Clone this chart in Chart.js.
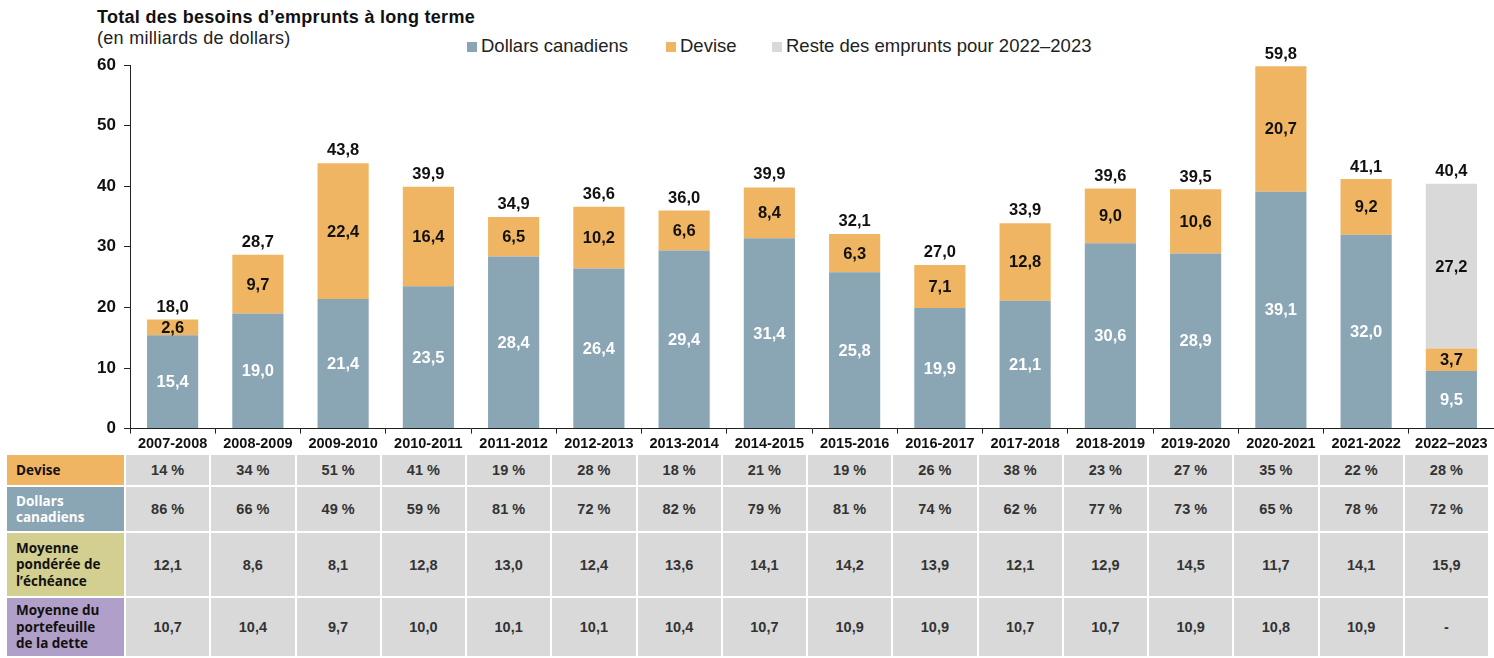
<!DOCTYPE html>
<html>
<head>
<meta charset="utf-8">
<script src="https://cdn.jsdelivr.net/npm/chart.js@4.4.0/dist/chart.umd.min.js"></script>
<style>
  body { margin: 0; background: #fff; font-family: "Liberation Sans", Arial, sans-serif; }
  #wrap { position: relative; width: 1494px; height: 658px; overflow: hidden; }
  #chart_div { position: absolute; left: 0; top: 0; width: 1494px; height: 455px; }
  .title { position: absolute; left: 97px; top: 7px; font-size: 18px; font-weight: bold; color: #111; letter-spacing: 0.3px; }
  .subtitle { position: absolute; left: 97px; top: 28px; font-size: 18px; color: #222; letter-spacing: 0.3px; }
  .legend { position: absolute; top: 35px; font-size: 18.5px; color: #222; white-space: nowrap; }
  .legend span.box { position: absolute; left: -14px; top: 7px; width: 10px; height: 10px; }
  #table_div { position: absolute; left: 0; top: 455px; width: 1494px; height: 203px; }
  .cell { position: absolute; box-sizing: border-box; background: #d9d9d9; display: flex; align-items: center; justify-content: center;
          font-size: 14.5px; font-weight: bold; color: #333; }
  .head { justify-content: flex-start; padding-left: 9px; font-family: "Open Sans", sans-serif; font-size: 13.5px; line-height: 16.5px; color: #111; }
</style>
</head>
<body>
<div id="wrap">
  <div class="title">Total des besoins d’emprunts à long terme</div>
  <div class="subtitle">(en milliards de dollars)</div>
  <div class="legend" style="left:481px"><span class="box" style="background:#8aa5b4"></span>Dollars canadiens</div>
  <div class="legend" style="left:680px"><span class="box" style="background:#f0b562"></span>Devise</div>
  <div class="legend" style="left:786px"><span class="box" style="background:#d9d9d9"></span>Reste des emprunts pour 2022–2023</div>
  <div id="chart_div"><canvas id="my_chart"></canvas></div>
  <div id="table_div"></div>
</div>
<script>
const labels = ['2007-2008', '2008-2009', '2009-2010', '2010-2011', '2011-2012', '2012-2013', '2013-2014', '2014-2015',
  '2015-2016', '2016-2017', '2017-2018', '2018-2019', '2019-2020', '2020-2021', '2021-2022', '2022–2023'];

const cad_values = [15.4, 19.0, 21.4, 23.5, 28.4, 26.4, 29.4, 31.4, 25.8, 19.9, 21.1, 30.6, 28.9, 39.1, 32.0, 9.5];
const devise_values = [2.6, 9.7, 22.4, 16.4, 6.5, 10.2, 6.6, 8.4, 6.3, 7.1, 12.8, 9.0, 10.6, 20.7, 9.2, 3.7];
const reste_values = [null, null, null, null, null, null, null, null, null, null, null, null, null, null, null, 27.2];
const total_values = [18.0, 28.7, 43.8, 39.9, 34.9, 36.6, 36.0, 39.9, 32.1, 27.0, 33.9, 39.6, 39.5, 59.8, 41.1, 40.4];

const y_ticks = [0, 10, 20, 30, 40, 50, 60];

// table rows
const devise_pct = ['14 %', '34 %', '51 %', '41 %', '19 %', '28 %', '18 %', '21 %', '19 %', '26 %', '38 %', '23 %', '27 %', '35 %', '22 %', '28 %'];
const cad_pct = ['86 %', '66 %', '49 %', '59 %', '81 %', '72 %', '82 %', '79 %', '81 %', '74 %', '62 %', '77 %', '73 %', '65 %', '78 %', '72 %'];
const moy_echeance = ['12,1', '8,6', '8,1', '12,8', '13,0', '12,4', '13,6', '14,1', '14,2', '13,9', '12,1', '12,9', '14,5', '11,7', '14,1', '15,9'];
const moy_portefeuille = ['10,7', '10,4', '9,7', '10,0', '10,1', '10,1', '10,4', '10,7', '10,9', '10,9', '10,7', '10,7', '10,9', '10,8', '10,9', '-'];

const row_heads = [
  { text: 'Devise', bg: '#f0b562', color: '#111', values: devise_pct, top: 0, height: 32 },
  { text: 'Dollars<br>canadiens', bg: '#8aa5b4', color: '#fff', values: cad_pct, top: 32, height: 46 },
  { text: 'Moyenne<br>pondérée de<br>l’échéance', bg: '#d3cf90', color: '#111', values: moy_echeance, top: 78, height: 65 },
  { text: 'Moyenne du<br>portefeuille<br>de la dette', bg: '#b09fc8', color: '#111', values: moy_portefeuille, top: 143, height: 60 }
];

function fmt(v) {
  return v.toFixed(1).replace('.', ',');
}

const bar_labels = {
  id: 'bar_labels',
  afterDatasetsDraw(chart) {
    const ctx = chart.ctx;
    ctx.save();
    ctx.font = 'bold 16.5px "Liberation Sans", Arial, sans-serif';
    ctx.textAlign = 'center';
    ctx.textBaseline = 'middle';
    chart.data.datasets.forEach(function(ds, di) {
      const meta = chart.getDatasetMeta(di);
      meta.data.forEach(function(bar, i) {
        const v = ds.data[i];
        if (v === null || v === undefined) return;
        ctx.fillStyle = di === 0 ? '#fff' : '#111';
        ctx.fillText(fmt(v), bar.x, (bar.y + bar.base) / 2 + 1);
      });
    });
    const ys = chart.scales.y;
    const top_meta = chart.getDatasetMeta(0);
    ctx.fillStyle = '#111';
    ctx.textBaseline = 'bottom';
    total_values.forEach(function(t, i) {
      ctx.fillText(fmt(t), top_meta.data[i].x, ys.getPixelForValue(t) - 4);
    });
    ctx.restore();
  }
};

function build_table(chart) {
  const xs = chart.scales.x;
  const step = xs.getPixelForValue(1) - xs.getPixelForValue(0);
  const div = document.getElementById('table_div');
  let html = '';
  row_heads.forEach(function(r) {
    const first_left = xs.getPixelForValue(0) - step / 2 - 4;
    html += '<div class="cell head" style="left:7px;top:' + r.top + 'px;width:' + (first_left - 7) + 'px;height:' + r.height +
      'px;background:' + r.bg + ';color:' + r.color + ';border-bottom:2px solid #fff;border-right:2px solid #fff">' + r.text + '</div>';
    r.values.forEach(function(v, i) {
      const left = xs.getPixelForValue(i) - step / 2 - 4;
      html += '<div class="cell" style="left:' + left + 'px;top:' + r.top + 'px;width:' + step + 'px;height:' + r.height +
        'px;border-bottom:2px solid #fff;border-right:2px solid #fff">' + v + '</div>';
    });
  });
  div.innerHTML = html;
}

function create_chart() {
  const data = {
    labels: labels,
    datasets: [
      { label: 'Dollars canadiens', data: cad_values, backgroundColor: '#8aa5b4', stack: 's' },
      { label: 'Devise', data: devise_values, backgroundColor: '#f0b562', stack: 's' },
      { label: 'Reste des emprunts pour 2022–2023', data: reste_values, backgroundColor: '#d9d9d9', stack: 's' }
    ]
  };

  const config = {
    type: 'bar',
    data,
    plugins: [bar_labels],
    options: {
      responsive: true,
      maintainAspectRatio: false,
      animation: false,
      categoryPercentage: 0.6,
      barPercentage: 1.0,
      layout: { padding: { top: 65, right: -4, left: 0, bottom: 0 } },
      plugins: {
        legend: { display: false },
        tooltip: { enabled: false }
      },
      scales: {
        x: {
          stacked: true,
          grid: { display: true, drawOnChartArea: false, drawTicks: true, tickLength: 5, color: '#222', offset: true },
          border: { display: true, color: '#222', width: 1 },
          ticks: { color: '#111', font: { family: '"Liberation Sans", Arial', size: 14.5, weight: 'bold' }, padding: 2, maxRotation: 0, autoSkip: false }
        },
        y: {
          stacked: true,
          min: 0,
          max: 60,
          afterBuildTicks: function(scale) { scale.ticks = y_ticks.map(function(v) { return { value: v }; }); },
          afterFit: function(scale) { scale.width = 130; },
          grid: { display: true, drawOnChartArea: false, drawTicks: true, tickLength: 6, color: '#222' },
          border: { display: true, color: '#222', width: 1 },
          ticks: { color: '#111', font: { family: '"Liberation Sans", Arial', size: 17, weight: 'bold' }, padding: 8 }
        }
      }
    }
  };

  const canv = document.getElementById('my_chart');
  const chart = new Chart(canv.getContext('2d'), config);
  build_table(chart);
}

create_chart();
</script>
</body>
</html>
